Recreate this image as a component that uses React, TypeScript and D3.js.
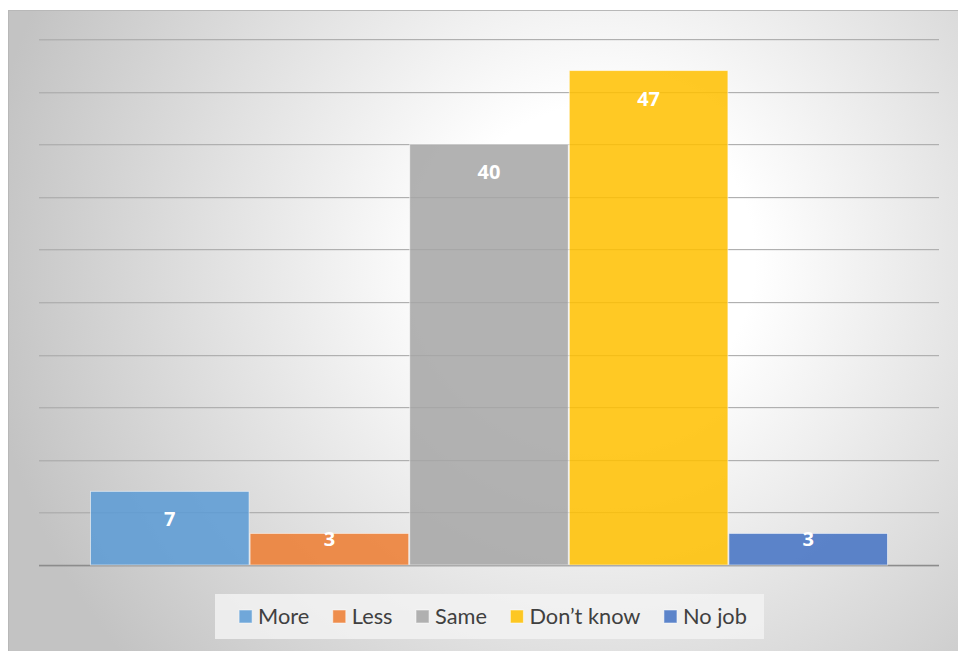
import React, { useEffect, useRef } from "react";
import * as d3 from "d3";

const categories = ["More", "Less", "Same", "Don\u2019t know", "No job"];
const values = [7, 3, 40, 47, 3];
const colors = ["#5B9BD5", "#ED7D31", "#A5A5A5", "#FFC000", "#4472C4"];
const gridTicks = [0, 5, 10, 15, 20, 25, 30, 35, 40, 45, 50];

const W = 958;
const H = 651;
const chart = { x: 8, y: 10, w: 950, h: 641 };
const plot = { left: 39, right: 939, top: 39, bottom: 565 };

export default function App() {
  const legendRef = useRef<SVGGElement>(null);

  const y = d3.scaleLinear().domain([0, 50]).range([plot.bottom, plot.top]);
  const x0 = d3
    .scaleBand<string>()
    .domain([""])
    .range([plot.left, plot.right])
    .paddingInner(0)
    .paddingOuter(0.0639);
  const x1 = d3
    .scaleBand<string>()
    .domain(categories)
    .range([0, x0.bandwidth()])
    .padding(0);
  const gx = x0("") as number;

  useEffect(() => {
    const g = d3.select(legendRef.current);
    g.selectAll("*").remove();
    const family = "Lato, 'Open Sans', sans-serif";
    const markerSize = 13;
    const markerGap = 6;
    const itemGap = 23.5;
    const targetTextSum = 319;
    const items = g
      .selectAll("g.item")
      .data(categories)
      .join("g")
      .attr("class", "item");
    const texts = items
      .append("text")
      .attr("y", 624)
      .attr("fill", "#404040")
      .attr("font-family", family)
      .attr("font-size", 20)
      .text((d) => d);
    let sum = 0;
    texts.each(function () {
      sum += (this as SVGTextElement).getComputedTextLength();
    });
    const size = (20 * targetTextSum) / (sum || targetTextSum);
    texts.attr("font-size", size);
    const widths: number[] = [];
    texts.each(function () {
      widths.push((this as SVGTextElement).getComputedTextLength());
    });
    const totalW =
      widths.reduce((a, b) => a + b, 0) +
      categories.length * (markerSize + markerGap) +
      (categories.length - 1) * itemGap;
    let cursor = (plot.left + plot.right) / 2 + 4 - totalW / 2;
    const xs: number[] = [];
    widths.forEach((w) => {
      xs.push(cursor);
      cursor += markerSize + markerGap + w + itemGap;
    });
    items
      .insert("rect", "text")
      .attr("x", (_d, i) => xs[i])
      .attr("y", 610)
      .attr("width", markerSize)
      .attr("height", markerSize)
      .attr("fill", (_d, i) => colors[i])
      .attr("fill-opacity", 0.86)
      .attr("stroke", "#ffffff")
      .attr("stroke-opacity", 0.5);
    texts.attr("x", (_d, i) => xs[i] + markerSize + markerGap);
  }, []);

  return (
    <svg
      width={W}
      height={H}
      style={{ position: "absolute", left: 0, top: 0, display: "block" }}
    >
      <defs>
        <radialGradient
          id="bg"
          gradientUnits="userSpaceOnUse"
          cx={600}
          cy={260}
          r={620}
          fx={600}
          fy={260}
        >
          <stop offset="0" stopColor="#ffffff" />
          <stop offset="0.25" stopColor="#ffffff" />
          <stop offset="1" stopColor="#c3c3c3" />
        </radialGradient>
      </defs>
      <rect x={0} y={0} width={W} height={H} fill="#ffffff" />
      <rect
        x={chart.x}
        y={chart.y}
        width={chart.w}
        height={chart.h}
        fill="url(#bg)"
      />
      <line x1={chart.x} x2={W} y1={chart.y + 0.5} y2={chart.y + 0.5} stroke="#b8b8b8" />
      <line x1={chart.x + 0.5} x2={chart.x + 0.5} y1={chart.y} y2={H} stroke="#b8b8b8" />

      {gridTicks.map((t) => (
        <g key={t}>
          <line
            x1={plot.left}
            x2={plot.right}
            y1={Math.round(y(t)) + 1.5}
            y2={Math.round(y(t)) + 1.5}
            stroke="#000"
            strokeOpacity={0.05}
          />
          <line
            x1={plot.left}
            x2={plot.right}
            y1={Math.round(y(t)) + 0.5}
            y2={Math.round(y(t)) + 0.5}
            stroke={t === 0 ? "#8c8c8c" : "#b0b0b0"}
            strokeWidth={t === 0 ? 1.5 : 1}
          />
        </g>
      ))}

      {categories.map((c, i) => {
        const bx = gx + (x1(c) as number);
        const top = y(values[i]);
        const h = y(0) - top;
        return (
          <rect
            key={c}
            x={bx + 0.5}
            y={top}
            width={x1.bandwidth() - 1}
            height={h}
            fill={colors[i]}
            fillOpacity={0.86}
            stroke="#ffffff"
            strokeOpacity={0.55}
            strokeWidth={1}
          />
        );
      })}

      {categories.map((c, i) => {
        const bx = gx + (x1(c) as number) + x1.bandwidth() / 2;
        const top = y(values[i]);
        const h = y(0) - top;
        const ly = h >= 60 ? top + 35 : top + 13;
        return (
          <text
            key={c}
            x={bx}
            y={ly}
            textAnchor="middle"
            fill="#ffffff"
            fontFamily="'Open Sans', 'Noto Sans', sans-serif"
            fontWeight={700}
            fontSize={20}
          >
            {values[i]}
          </text>
        );
      })}

      <rect
        x={215}
        y={594}
        width={549}
        height={45}
        fill="#f2f2f2"
        fillOpacity={0.85}
      />
      <g ref={legendRef} />
    </svg>
  );
}
